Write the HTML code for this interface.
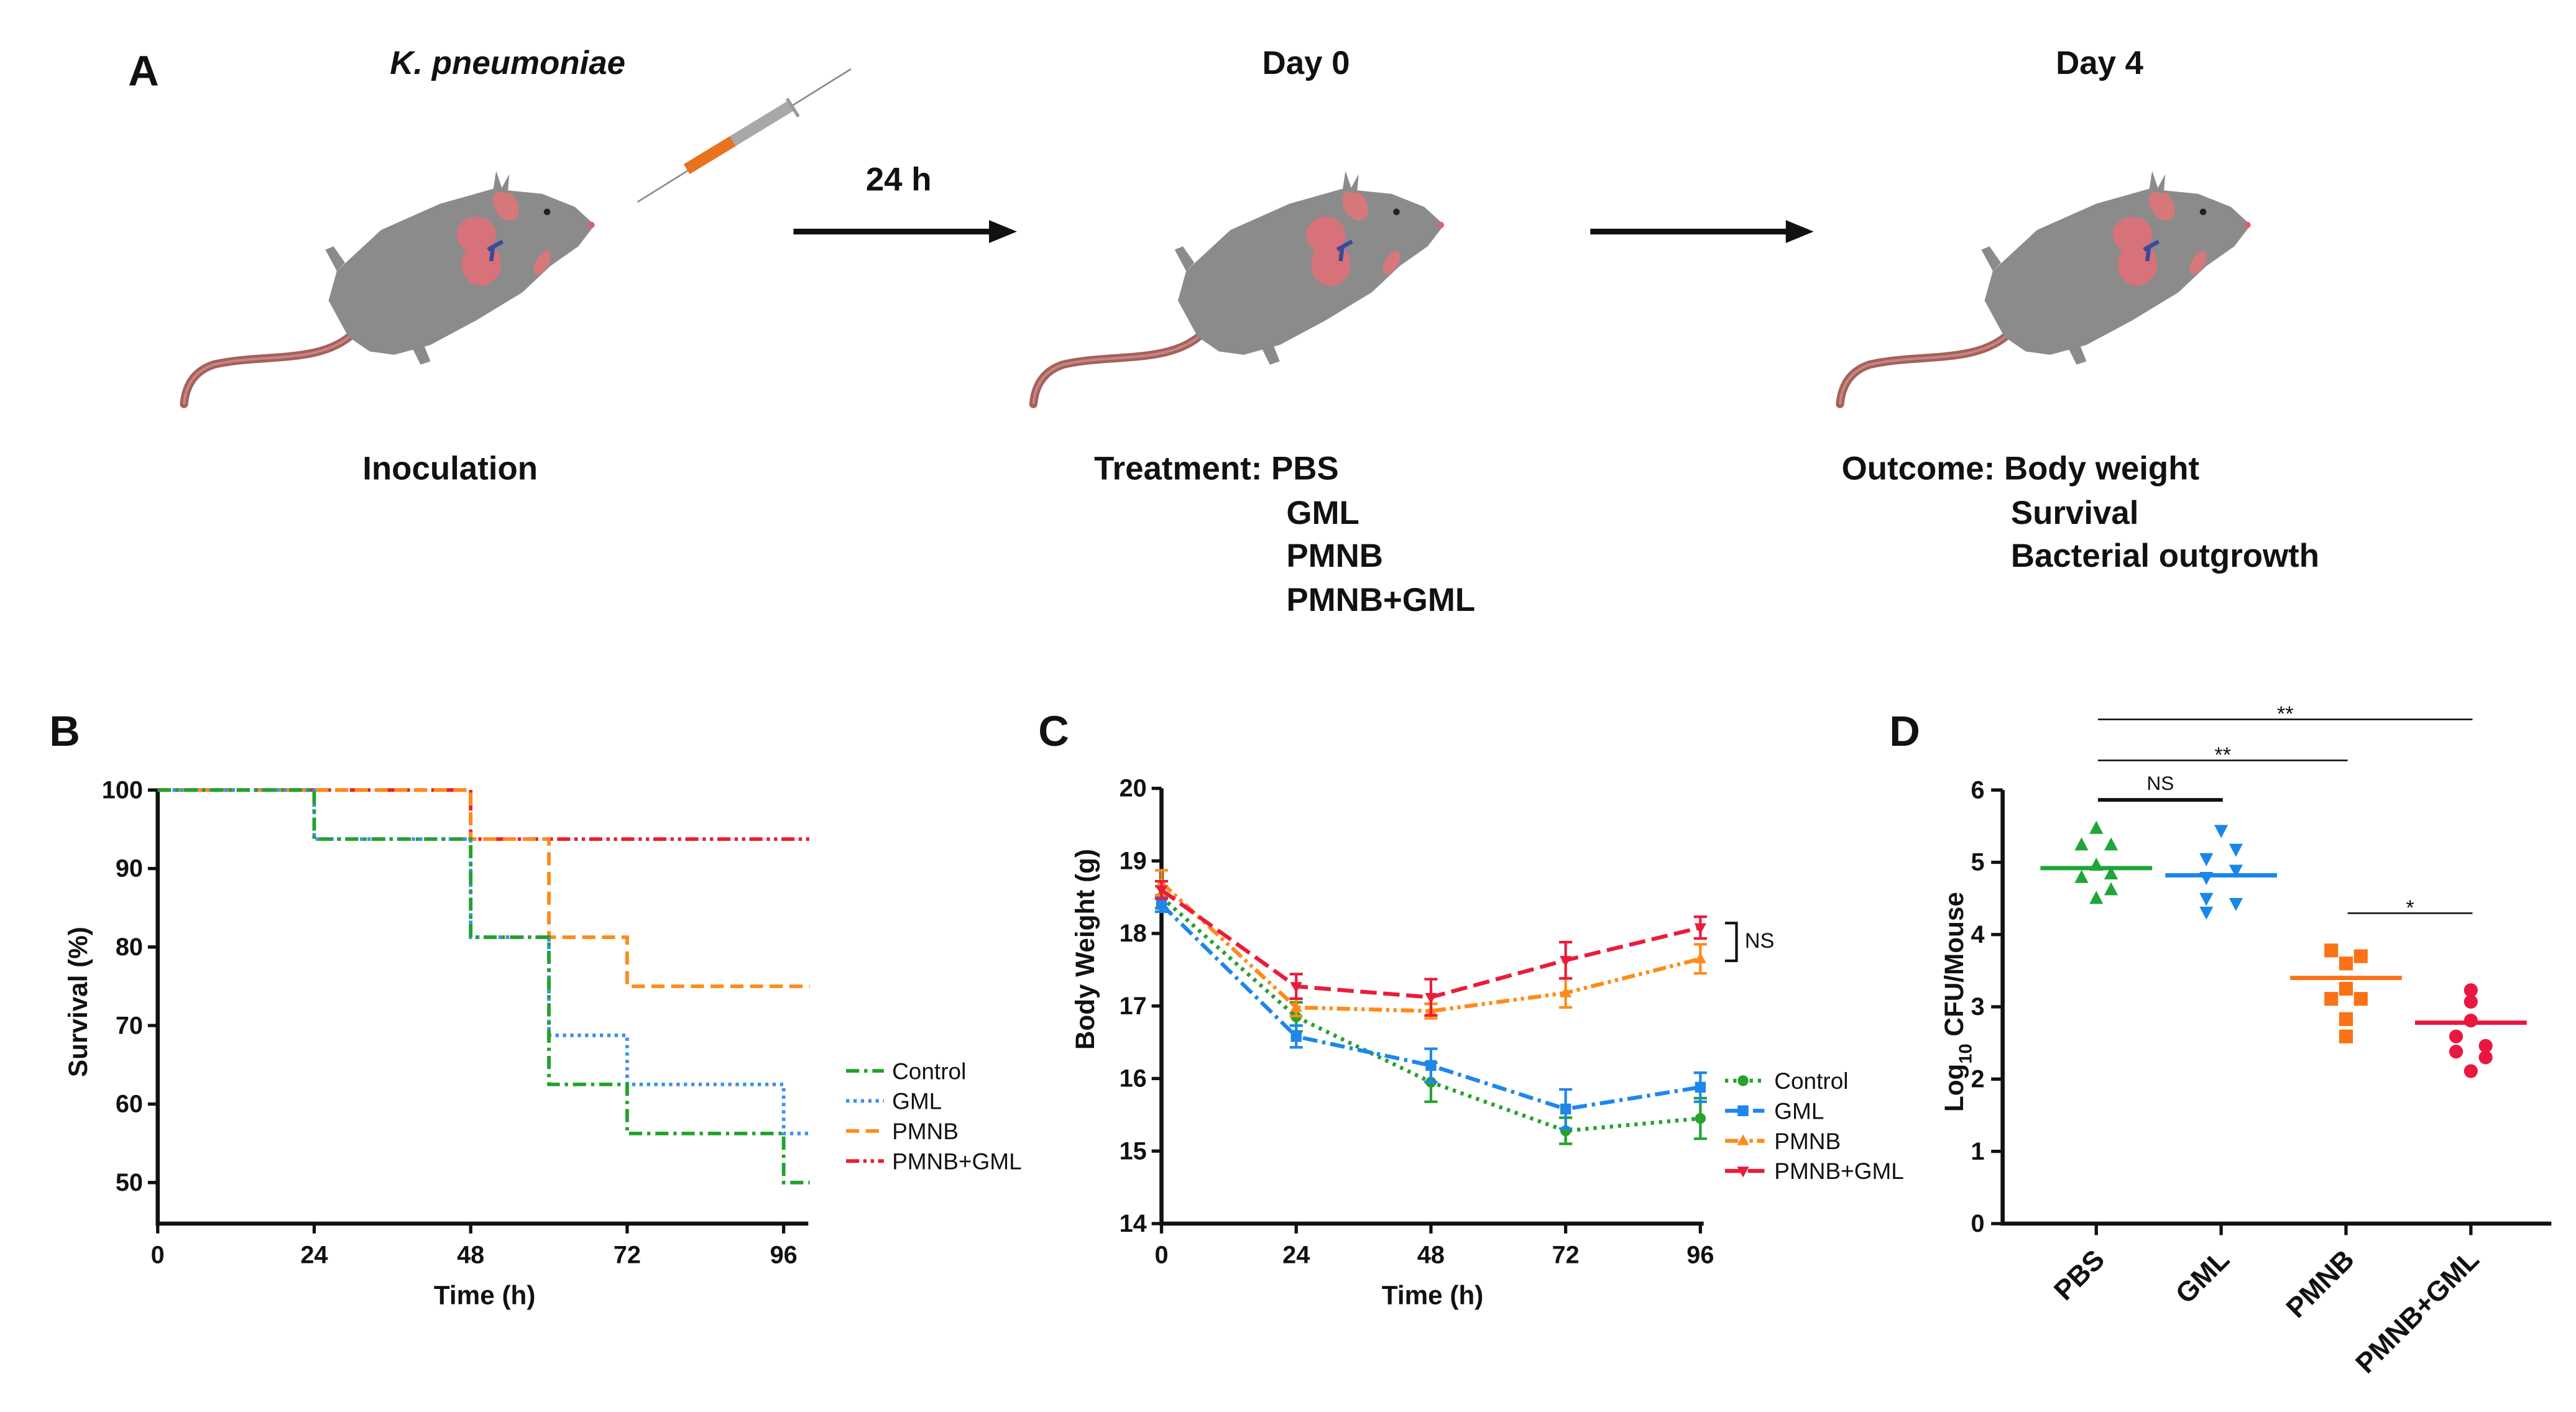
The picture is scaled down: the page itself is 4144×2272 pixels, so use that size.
<!DOCTYPE html>
<html><head><meta charset="utf-8"><style>
html,body{margin:0;padding:0;background:#fff;}
svg{display:block;}
text{font-family:"Liberation Sans",sans-serif;fill:#111;}
</style></head><body>
<svg id="fig" width="4144" height="2272" viewBox="0 0 1568 859.7" preserveAspectRatio="none" xmlns="http://www.w3.org/2000/svg">
<defs>
<g id="mouse">
  <path d="M215,203 C195,222 160,215 130,222 C118,226 113,235 112,246" fill="none" stroke="#a5615c" stroke-width="5" stroke-linecap="round"/>
  <path d="M215,203 C195,222 160,215 130,222 C118,226 113,235 112,246" fill="none" stroke="#c98580" stroke-width="1.5"/>
  <path d="M200,183 L205,165 L232,140 L268,124 L300,115 L330,118 L350,126 L362,137 L352,150 L335,162 L318,178 L290,195 L262,210 L240,216 L225,214 L212,205 Z" fill="#8b8b8b"/>
  <path d="M205,165 L198,152 L203,150 L210,160 Z M250,210 L256,222 L262,220 L258,210 Z" fill="#8b8b8b"/>
  <ellipse cx="308" cy="125" rx="7" ry="10" fill="#d6787a" transform="rotate(-30 308 125)"/>
  <ellipse cx="330" cy="160" rx="4" ry="8" fill="#d6787a" transform="rotate(30 330 160)"/>
  <path d="M300,117 L302,104 L306,116 Z M304,117 L310,106 L309,118 Z" fill="#8b8b8b"/>
  <ellipse cx="290" cy="143" rx="12" ry="11" fill="#d8727a"/>
  <ellipse cx="293" cy="161" rx="12" ry="13" fill="#d8727a"/>
  <path d="M297,152 L306,147 M300,151 L299,159" stroke="#3b4a9a" stroke-width="2.5" fill="none"/>
  <circle cx="333" cy="129" r="2" fill="#222"/>
  <circle cx="360" cy="137" r="2" fill="#e06070"/>
</g>
</defs>

<!-- Panel A -->
<g>
  <text x="78" y="52" font-size="26" font-weight="bold">A</text>
  <text x="309" y="45" font-size="20" font-weight="bold" font-style="italic" text-anchor="middle">K. pneumoniae</text>
  <use href="#mouse"/>
  <g>
    <line x1="388" y1="123" x2="518" y2="42" stroke="#888" stroke-width="1"/>
    <line x1="418" y1="103" x2="482" y2="64" stroke="#a8a8a8" stroke-width="7"/>
    <line x1="418" y1="103" x2="446" y2="86" stroke="#e8731c" stroke-width="7"/>
    <line x1="479" y1="60" x2="486" y2="71" stroke="#999" stroke-width="2"/>
  </g>
  <text x="547" y="116" font-size="20" font-weight="bold" text-anchor="middle">24 h</text>
  <g>
    <line x1="483" y1="141" x2="605" y2="141" stroke="#111" stroke-width="3.5"/>
    <polygon points="602,134 619,141 602,148" fill="#111"/>
  </g>
  <text x="795" y="45" font-size="20" font-weight="bold" text-anchor="middle">Day 0</text>
  <use href="#mouse" transform="translate(517,0)"/>
  <g>
    <line x1="968" y1="141" x2="1090" y2="141" stroke="#111" stroke-width="3.5"/>
    <polygon points="1087,134 1104,141 1087,148" fill="#111"/>
  </g>
  <text x="1278" y="45" font-size="20" font-weight="bold" text-anchor="middle">Day 4</text>
  <use href="#mouse" transform="translate(1008,0)"/>
  <text x="274" y="292" font-size="20" font-weight="bold" text-anchor="middle">Inoculation</text>
  <g font-size="20" font-weight="bold">
    <text x="666" y="292">Treatment: PBS</text>
    <text x="783" y="319">GML</text>
    <text x="783" y="345">PMNB</text>
    <text x="783" y="372">PMNB+GML</text>
  </g>
  <g font-size="20" font-weight="bold">
    <text x="1121" y="292">Outcome: Body weight</text>
    <text x="1224" y="319">Survival</text>
    <text x="1224" y="345">Bacterial outgrowth</text>
  </g>
</g>

<g id="pB"></g>
<g id="pC"></g>
<g id="pD"></g>
</svg>
<script>
// ---- Panel B data ----
const survTimes = {
  control:[0,24,48,60,72,96,100],
  gml:[0,24,48,60,72,96,100],
  pmnb:[0,48,60,72,100],
  combo:[0,48,100]
};
const survControl=[100,93.75,81.25,62.5,56.25,50,50];
const survGML=[100,93.75,81.25,68.75,62.5,56.25,56.25];
const survPMNB=[100,93.75,81.25,75,75];
const survCombo=[100,93.75,93.75];
const survXTicks=[0,24,48,72,96];
const survYTicks=[50,60,70,80,90,100];
// ---- Panel C data ----
const bwTimes=[0,24,48,72,96];
const bwControl=[18.5,16.85,15.95,15.28,15.45];
const bwControlErr=[0.15,0.2,0.27,0.18,0.28];
const bwGML=[18.4,16.58,16.18,15.58,15.88];
const bwGMLErr=[0.1,0.15,0.23,0.27,0.2];
const bwPMNB=[18.7,16.98,16.93,17.18,17.65];
const bwPMNBErr=[0.17,0.12,0.1,0.2,0.2];
const bwCombo=[18.6,17.27,17.12,17.63,18.08];
const bwComboErr=[0.12,0.17,0.25,0.25,0.15];
const bwYTicks=[14,15,16,17,18,19,20];
// ---- Panel D data ----
const cfuGroups=['PBS','GML','PMNB','PMNB+GML'];
const cfuPBS=[5.47,5.24,5.24,4.96,4.79,4.84,4.62,4.5];
const cfuGML=[5.44,5.18,5.05,4.89,4.79,4.5,4.43,4.31];
const cfuPMNB=[3.78,3.7,3.6,3.25,3.11,3.11,2.83,2.59];
const cfuCombo=[3.23,3.07,2.81,2.59,2.46,2.38,2.3,2.11];
const cfuJitter=[[0,-1,1,0,-1,1,1,0],[0,1,-1,1,-1,-1,1,-1],[-1,1,0,0,-1,1,0,0],[0,0,0,-1,1,-1,1,0]];
const cfuMeans=[4.92,4.82,3.4,2.78];
const cfuYTicks=[0,1,2,3,4,5,6];

const NS='http://www.w3.org/2000/svg';
function mk(parent,tag,attrs,txt){const e=document.createElementNS(NS,tag);for(const k in attrs)e.setAttribute(k,attrs[k]);if(txt!==undefined)e.textContent=txt;parent.appendChild(e);return e;}

// ===== Panel B =====
(function(){
  const g=document.getElementById('pB');
  const x=t=>96+t*(477-96)/96, y=v=>720-(v-50)*(720-481)/50;
  const t=mk(g,'text',{x:30,y:454,'font-size':26,'font-weight':'bold'},'B');
  
  const ax=mk(g,'path',{d:`M96,${y(100)} V745 H492`,fill:'none',stroke:'#111','stroke-width':2.5});
  
  survYTicks.forEach(v=>{mk(g,'line',{x1:90,x2:96,y1:y(v),y2:y(v),stroke:'#111','stroke-width':2});
    const l=mk(g,'text',{x:87,y:y(v)+5,'font-size':15,'font-weight':'bold','text-anchor':'end'},v);
    });
  survXTicks.forEach(v=>{mk(g,'line',{x1:x(v),x2:x(v),y1:745,y2:751,stroke:'#111','stroke-width':2});
    const l=mk(g,'text',{x:x(v),y:769,'font-size':15,'font-weight':'bold','text-anchor':'middle'},v);
    });
  const xt=mk(g,'text',{x:295,y:794,'font-size':16,'font-weight':'bold','text-anchor':'middle'},'Time (h)');
  
  const yt=mk(g,'text',{x:0,y:0,'font-size':16,'font-weight':'bold','text-anchor':'middle',transform:'translate(53,610) rotate(-90)'},'Survival (%)');
  
  const series=[
    {n:'control',lab:'Control',tt:survTimes.control,v:survControl,c:'#22a22c',d:'8,3,2,3'},
    {n:'gml',lab:'GML',tt:survTimes.gml,v:survGML,c:'#3d8ff2',d:'2,2.5'},
    {n:'pmnb',lab:'PMNB',tt:survTimes.pmnb,v:survPMNB,c:'#ff8a1c',d:'8,4'},
    {n:'combo',lab:'PMNB+GML',tt:survTimes.combo,v:survCombo,c:'#ee1c2a',d:'8,2.5,2,2.5,2,2.5'}];
  series.slice().reverse().forEach(s=>{
    let d=`M${x(s.tt[0])},${y(s.v[0])}`;
    for(let i=1;i<s.tt.length;i++){d+=` H${x(s.tt[i])}`; if(i<s.tt.length-1) d+=` V${y(s.v[i])}`;}
    const p=mk(g,'path',{d:d,fill:'none',stroke:s.c,'stroke-width':2.2,'stroke-dasharray':s.d});
    
  });
  series.forEach((s,i)=>{const yy=652+i*18.3;
    mk(g,'line',{x1:515,x2:538,y1:yy,y2:yy,stroke:s.c,'stroke-width':2.2,'stroke-dasharray':s.d});
    const l=mk(g,'text',{x:543,y:yy+5,'font-size':14},s.lab);
    });
})();

// ===== Panel C =====
(function(){
  const g=document.getElementById('pC');
  const x=t=>707+t*(1035-707)/96, y=v=>745-(v-14)*(745-480)/6;
  const t=mk(g,'text',{x:632,y:454,'font-size':26,'font-weight':'bold'},'C');
  
  const ax=mk(g,'path',{d:`M707,${y(20)} V745 H1037`,fill:'none',stroke:'#111','stroke-width':2.5});
  
  bwYTicks.forEach(v=>{mk(g,'line',{x1:701,x2:707,y1:y(v),y2:y(v),stroke:'#111','stroke-width':2});
    const l=mk(g,'text',{x:698,y:y(v)+5,'font-size':15,'font-weight':'bold','text-anchor':'end'},v);
    });
  bwTimes.forEach(v=>{mk(g,'line',{x1:x(v),x2:x(v),y1:745,y2:751,stroke:'#111','stroke-width':2});
    const l=mk(g,'text',{x:x(v),y:769,'font-size':15,'font-weight':'bold','text-anchor':'middle'},v);
    });
  const xt=mk(g,'text',{x:872,y:794,'font-size':16,'font-weight':'bold','text-anchor':'middle'},'Time (h)');
  
  const yt=mk(g,'text',{x:0,y:0,'font-size':16,'font-weight':'bold','text-anchor':'middle',transform:'translate(666,578) rotate(-90)'},'Body Weight (g)');
  
  const series=[
    {n:'control',lab:'Control',v:bwControl,e:bwControlErr,c:'#25a22f',d:'2,3',m:'circle'},
    {n:'gml',lab:'GML',v:bwGML,e:bwGMLErr,c:'#1f86ec',d:'9,3,2,3',m:'square'},
    {n:'pmnb',lab:'PMNB',v:bwPMNB,e:bwPMNBErr,c:'#ff8b1a',d:'8,2.5,2,2.5,2,2.5',m:'up'},
    {n:'combo',lab:'PMNB+GML',v:bwCombo,e:bwComboErr,c:'#ea1c3a',d:'10,4',m:'down'}];
  function marker(par,m,cx,cy,c,r){
    if(m==='circle') return mk(par,'circle',{cx:cx,cy:cy,r:r,fill:c});
    if(m==='square') return mk(par,'rect',{x:cx-r,y:cy-r,width:2*r,height:2*r,fill:c});
    if(m==='up') return mk(par,'polygon',{points:`${cx},${cy-r*1.2} ${cx-r*1.1},${cy+r*0.8} ${cx+r*1.1},${cy+r*0.8}`,fill:c});
    return mk(par,'polygon',{points:`${cx},${cy+r*1.2} ${cx-r*1.1},${cy-r*0.8} ${cx+r*1.1},${cy-r*0.8}`,fill:c});
  }
  series.forEach(s=>{
    const pts=bwTimes.map((tt,i)=>`${x(tt)},${y(s.v[i])}`).join(' ');
    const p=mk(g,'polyline',{points:pts,fill:'none',stroke:s.c,'stroke-width':2.4,'stroke-dasharray':s.d});
    
    bwTimes.forEach((tt,i)=>{
      const cx=x(tt),y1=y(s.v[i]+s.e[i]),y2=y(s.v[i]-s.e[i]);
      const eb=mk(g,'path',{d:`M${cx},${y1} V${y2} M${cx-4},${y1} H${cx+4} M${cx-4},${y2} H${cx+4}`,stroke:s.c,'stroke-width':1.6,fill:'none'});
      
      const mm=marker(g,s.m,cx,y(s.v[i]),s.c,3.3);
      
    });
  });
  series.forEach((s,i)=>{const yy=658+i*18.3;
    mk(g,'line',{x1:1050,x2:1074,y1:yy,y2:yy,stroke:s.c,'stroke-width':2.4,'stroke-dasharray':s.d});
    marker(g,s.m,1061,yy,s.c,3.3);
    const l=mk(g,'text',{x:1080,y:yy+5,'font-size':14},s.lab);
    });
  const br=mk(g,'path',{d:'M1050,562 H1057 V585 H1050',fill:'none',stroke:'#111','stroke-width':1.6});
  
  const ns=mk(g,'text',{x:1062,y:577,'font-size':13},'NS');
  
})();

// ===== Panel D =====
(function(){
  const g=document.getElementById('pD');
  const xc=i=>1276+i*76, y=v=>745-v*(745-481)/6;
  const t=mk(g,'text',{x:1150,y:454,'font-size':26,'font-weight':'bold'},'D');
  
  const ax=mk(g,'path',{d:`M1219,${y(6)} V745 H1553`,fill:'none',stroke:'#111','stroke-width':2.5});
  
  cfuYTicks.forEach(v=>{mk(g,'line',{x1:1212,x2:1219,y1:y(v),y2:y(v),stroke:'#111','stroke-width':2});
    const l=mk(g,'text',{x:1208,y:y(v)+5,'font-size':15,'font-weight':'bold','text-anchor':'end'},v);
    });
  const yt=mk(g,'text',{x:0,y:0,'font-size':16,'font-weight':'bold','text-anchor':'middle',transform:'translate(1195,610) rotate(-90)'});
  
  yt.innerHTML='Log<tspan font-size="11" dy="5">10</tspan><tspan dy="-5"> CFU/Mouse</tspan>';
  const cols=['#1fa53a','#1a87e8','#f97316','#ea1740'];
  const shapes=['up','down','square','circle'];
  const data=[cfuPBS,cfuGML,cfuPMNB,cfuCombo];
  cfuGroups.forEach((name,gi)=>{
    const cx=xc(gi);
    mk(g,'line',{x1:cx,x2:cx,y1:745,y2:752,stroke:'#111','stroke-width':2});
    const l=mk(g,'text',{x:0,y:0,'font-size':17,'font-weight':'bold','text-anchor':'end',transform:`translate(${cx+6},${768}) rotate(-45)`},name);
    
    data[gi].forEach((v,k)=>{
      const px=cx+cfuJitter[gi][k]*9, py=y(v), c=cols[gi], r=4.2;
      let m;
      if(shapes[gi]==='up') m=mk(g,'polygon',{points:`${px},${py-r*1.1} ${px-r},${py+r*0.8} ${px+r},${py+r*0.8}`,fill:c});
      else if(shapes[gi]==='down') m=mk(g,'polygon',{points:`${px},${py+r*1.1} ${px-r},${py-r*0.8} ${px+r},${py-r*0.8}`,fill:c});
      else if(shapes[gi]==='square') m=mk(g,'rect',{x:px-r,y:py-r,width:2*r,height:2*r,fill:c});
      else m=mk(g,'circle',{cx:px,cy:py,r:r,fill:c});
      
    });
    const ml=mk(g,'line',{x1:cx-34,x2:cx+34,y1:y(cfuMeans[gi]),y2:y(cfuMeans[gi]),stroke:cols[gi],'stroke-width':2.6});
    
  });
  const sig=[[0,3,438,'**',1],[0,2,463,'**',1],[0,1,487,'NS',2.2],[2,3,556,'*',1]];
  sig.forEach(s=>{
    const l=mk(g,'line',{x1:xc(s[0])+1,x2:xc(s[1])+1,y1:s[2],y2:s[2],stroke:'#111','stroke-width':s[4]});
    
    const tx=mk(g,'text',{x:(xc(s[0])+xc(s[1]))/2+1,y:s[2]-(s[3]==='NS'?6:-1),'font-size':s[3]==='NS'?12:13,'text-anchor':'middle'},s[3]);
    
  });
})();
</script>
</body></html>
